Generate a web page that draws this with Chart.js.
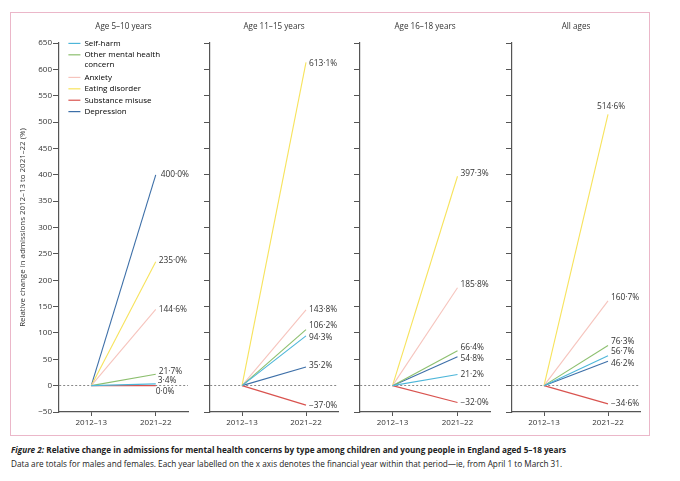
<!DOCTYPE html>
<html>
  <head>
    <script src="https://cdn.jsdelivr.net/npm/chart.js@4.4.1/dist/chart.umd.min.js"></script>
    <style>
      body { margin: 0; background: #fff; }
      #page { position: relative; width: 680px; height: 481px; font-family: "Open Sans", sans-serif; color: #222; }
      #frame { position: absolute; left: 10px; top: 12px; width: 638px; height: 422px; border: 1.5px solid #ebb7c9; }
      .panel { position: absolute; top: 14px; height: 422px; }
      .cap { position: absolute; left: 11px; font-size: 8.2px; white-space: nowrap; }
    </style>
  </head>

  <body>
    <div id="page">
      <div id="frame"></div>
      <div class="panel" style="left: 12px; width: 198px"><canvas id="c0"></canvas></div>
      <div class="panel" style="left: 195px; width: 165px"><canvas id="c1"></canvas></div>
      <div class="panel" style="left: 345px; width: 167px"><canvas id="c2"></canvas></div>
      <div class="panel" style="left: 497px; width: 152px"><canvas id="c3"></canvas></div>
      <div class="cap" style="top: 444px; font-weight: 700"><i>Figure 2:</i> Relative change in admissions for mental health concerns by type among children and young people in England aged 5–18 years</div>
      <div class="cap" style="top: 458px">Data are totals for males and females. Each year labelled on the x axis denotes the financial year within that period—ie, from April 1 to March 31.</div>
    </div>
    <script>
      const years = ['2012–13', '2021–22'];
      const panelTitles = ['Age 5–10 years', 'Age 11–15 years', 'Age 16–18 years', 'All ages'];
      const seriesNames = ['Self-harm', 'Other mental health concern', 'Anxiety', 'Eating disorder', 'Substance misuse', 'Depression'];

      // % change 2012-13 -> 2021-22, one value per panel
      const selfHarm = [3.4, 94.3, 21.2, 56.7];
      const otherConcern = [21.7, 106.2, 66.4, 76.3];
      const anxiety = [144.6, 143.8, 185.8, 160.7];
      const eatingDisorder = [235.0, 613.1, 397.3, 514.6];
      const substanceMisuse = [0.0, -37.0, -32.0, -34.6];
      const depression = [400.0, 35.2, 54.8, 46.2];

      const yMin = -50;
      const yMax = 650;
      const yStep = 50;

      const series = [selfHarm, otherConcern, anxiety, eatingDisorder, substanceMisuse, depression];
      const colors = ['#4db6d9', '#8cbf6e', '#f6c4bd', '#f7e35c', '#d9534f', '#3d6fa8'];

      // label nudges [dx, dy] so end labels do not collide
      const nudges = [
        [[-1, -3], [0, -3], [0, 0], [0, -1], [-3, 6], [2, 0]],
        [[0, 1.5], [0, -4], [0, 0], [0, 1], [0, 0], [0, -1]],
        [[0, 0.5], [0, -3.5], [0, -3.5], [0, -3], [0, 0], [0, 1.5]],
        [[0, -4], [0, -4], [0, -3], [-14, -8], [0, 0], [0, 2]],
      ];

      const layoutDims = [
        { yWidth: 47, padRight: 22 },
        { yWidth: 15, padRight: 22 },
        { yWidth: 15, padRight: 22 },
        { yWidth: 15, padRight: 9 },
      ];

      Chart.defaults.font.family = '"Open Sans", sans-serif';
      Chart.defaults.color = '#333';

      const fmt = (v) => v.toFixed(1).replace('.', '·').replace('-', '−') + '%';
      const wrap = (name) => {
        if (name.length < 22) return name;
        const cut = name.lastIndexOf(' ');
        return [name.slice(0, cut), name.slice(cut + 1)];
      };

      const endLabels = {
        id: 'endLabels',
        afterDatasetsDraw(chart) {
          const ctx = chart.ctx;
          ctx.save();
          ctx.font = '8.4px "Open Sans", sans-serif';
          ctx.fillStyle = '#333';
          ctx.textBaseline = 'middle';
          chart.data.datasets.forEach((ds, i) => {
            const pt = chart.getDatasetMeta(i).data[1];
            const [dx, dy] = ds.nudge;
            ctx.fillText(fmt(ds.data[1]), pt.x + 3 + dx, pt.y + dy);
          });
          ctx.restore();
        },
      };

      // legend sits inside the plot area, top-left
      const legendPlace = {
        id: 'legendPlace',
        afterLayout(chart) {
          const lg = chart.legend;
          if (lg && lg.options.display) {
            const h = lg.bottom - lg.top;
            lg.top = chart.chartArea.top - 7;
            lg.bottom = lg.top + h;
            lg.left = chart.chartArea.left + 6;
          }
        },
      };

      panelTitles.forEach((title, p) => {
        const first = p === 0;
        const dims = layoutDims[p];
        new Chart(document.getElementById('c' + p), {
          type: 'line',
          data: {
            labels: years,
            datasets: series.map((vals, i) => ({
              label: seriesNames[i],
              data: [0, vals[p]],
              borderColor: colors[i],
              borderWidth: 1.1,
              pointRadius: 0,
              tension: 0,
              nudge: nudges[p][i],
            })),
          },
          options: {
            responsive: true,
            maintainAspectRatio: false,
            animation: false,
            layout: { padding: { top: 0, right: dims.padRight, bottom: 0, left: 0 } },
            plugins: {
              tooltip: { enabled: false },
              title: {
                display: true,
                text: title,
                fullSize: false,
                color: '#333',
                font: { size: 8.1, weight: 'normal' },
                padding: { top: 8.2, bottom: 11.1 },
              },
              legend: {
                display: first,
                position: 'chartArea',
                align: 'start',
                labels: {
                  boxWidth: 12,
                  boxHeight: 1.2,
                  padding: 3.4,
                  color: '#2a2a2a',
                  font: { size: 8 },
                  generateLabels: (chart) =>
                    chart.data.datasets.map((ds, i) => ({
                      text: wrap(ds.label),
                      fillStyle: ds.borderColor,
                      strokeStyle: ds.borderColor,
                      lineWidth: 0,
                      hidden: false,
                      datasetIndex: i,
                    })),
                },
              },
            },
            scales: {
              x: {
                type: 'category',
                offset: true,
                grid: { drawOnChartArea: false, offset: false, tickColor: '#555', tickLength: 4 },
                border: { color: '#555', width: 1.2 },
                ticks: { color: '#333', font: { size: 8 }, padding: 2, maxRotation: 0, autoSkip: false },
                afterFit: (s) => { s.height = 24; },
              },
              y: {
                min: yMin,
                max: yMax,
                ticks: {
                  stepSize: yStep,
                  display: first,
                  color: '#333',
                  font: { size: 8 },
                  padding: 1,
                  callback: (v) => String(v).replace('-', '−'),
                },
                grid: {
                  color: (c) => (c.tick && c.tick.value === 0 ? '#888' : 'transparent'),
                  tickColor: '#555',
                  tickLength: 6,
                  lineWidth: 1,
                },
                border: { color: '#555', width: 1.2, dash: [2, 2] },
                title: {
                  display: first,
                  text: 'Relative change in admissions 2012–13 to 2021–22 (%)',
                  color: '#333',
                  font: { size: 7.9 },
                  padding: { top: 6, bottom: 0 },
                },
                afterFit: (s) => { s.width = dims.yWidth; },
              },
            },
          },
          plugins: [endLabels, legendPlace],
        });
      });
    </script>
  </body>
</html>
